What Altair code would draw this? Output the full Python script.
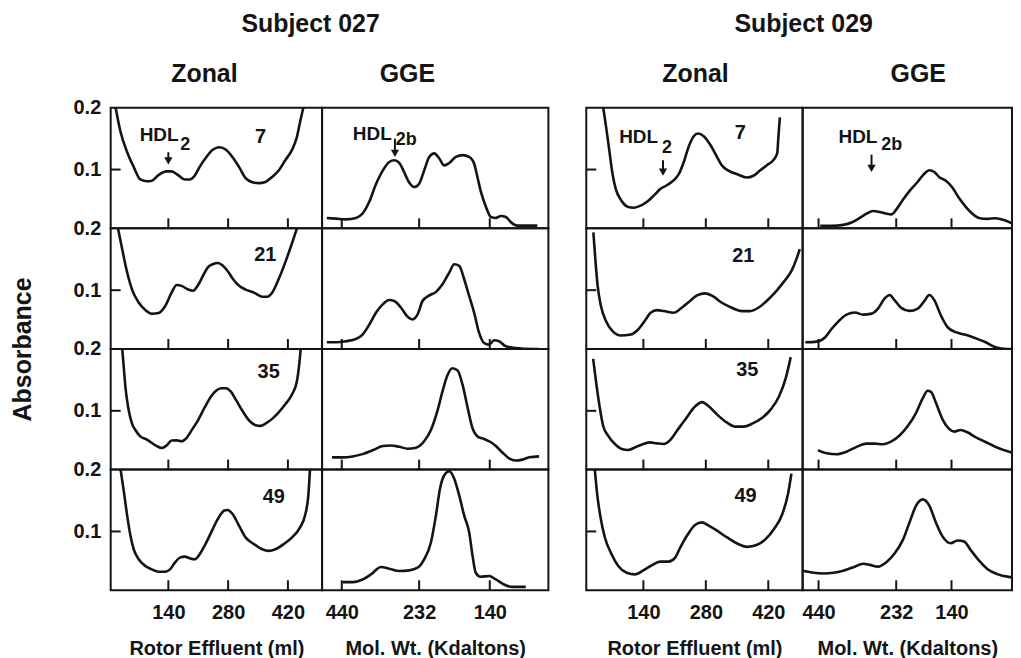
import altair as alt
import pandas as pd

FONT = "Liberation Sans"
INK = "#141414"

# ---------------- data ----------------
# Subject 027, zonal ultracentrifugation: rotor effluent (ml) vs absorbance
s027_zonal_d7_ml = [16.6, 28, 43.6, 59, 74.4, 89.9, 101.4, 116.9, 136, 147.7, 163, 178.6, 190, 201.7, 213, 228.7, 244, 259.6, 275, 290.4, 305.8, 321, 336.7, 352, 367.5, 383, 398, 413.8, 429, 440.8, 448.5, 456]
s027_zonal_d7_abs = [0.2, 0.161, 0.128, 0.104, 0.084, 0.081, 0.082, 0.091, 0.097, 0.097, 0.091, 0.084, 0.084, 0.090, 0.104, 0.120, 0.132, 0.136, 0.132, 0.120, 0.104, 0.086, 0.0795, 0.078, 0.080, 0.088, 0.098, 0.115, 0.131, 0.152, 0.177, 0.2]
s027_zonal_d21_ml = [22, 32, 43.6, 55, 70.6, 86, 101.4, 117, 132.3, 147.7, 159.3, 171, 186.3, 197.8, 209.4, 221, 232.6, 244, 255.7, 267.3, 278.8, 290.4, 305.8, 321, 340.5, 359.8, 371.4, 383, 398.4, 413.8, 429.2, 440.8]
s027_zonal_d21_abs = [0.2, 0.166, 0.1285, 0.101, 0.080, 0.068, 0.062, 0.063, 0.074, 0.096, 0.1085, 0.107, 0.101, 0.099, 0.108, 0.123, 0.137, 0.142, 0.144, 0.140, 0.131, 0.119, 0.107, 0.101, 0.096, 0.0895, 0.0895, 0.096, 0.118, 0.145, 0.175, 0.199]
s027_zonal_d35_ml = [32, 35.9, 39.7, 43.6, 47.4, 55.1, 62.9, 74.4, 89.9, 101.4, 113, 124.6, 136, 147.7, 159.3, 170.9, 182.4, 194, 209.4, 224.8, 240.3, 251.8, 263.4, 275, 286.5, 298, 313.5, 329, 344.4, 356, 367.5, 383, 398.4, 413.8, 429.2, 440.8, 447, 450]
s027_zonal_d35_abs = [0.2, 0.168, 0.137, 0.116, 0.100, 0.079, 0.069, 0.0586, 0.0534, 0.048, 0.043, 0.040, 0.044, 0.052, 0.0523, 0.0508, 0.056, 0.068, 0.0846, 0.105, 0.1236, 0.1324, 0.1366, 0.1366, 0.131, 0.118, 0.100, 0.0846, 0.0768, 0.0757, 0.0794, 0.087, 0.0976, 0.1106, 0.126, 0.147, 0.178, 0.2]
s027_zonal_d49_ml = [28.2, 35.9, 43.6, 51.3, 59, 70.6, 86, 101.4, 116.9, 132.3, 143.9, 155.4, 167, 178.6, 190, 201.7, 213.3, 224.8, 240.3, 255.7, 271.1, 278.8, 290.4, 305.8, 321.3, 340.5, 359.8, 375.2, 390.7, 410, 429.2, 448.5, 460, 467.8, 471.7]
s027_zonal_d49_abs = [0.2, 0.164, 0.1256, 0.093, 0.071, 0.055, 0.0442, 0.0387, 0.035, 0.035, 0.0387, 0.0496, 0.0577, 0.0594, 0.0566, 0.055, 0.0632, 0.0767, 0.0985, 0.120, 0.1338, 0.1348, 0.1283, 0.109, 0.090, 0.0795, 0.0713, 0.0686, 0.0713, 0.0795, 0.090, 0.1066, 0.1256, 0.158, 0.2]

# Subject 027, gradient gel electrophoresis: migration position (0-100) vs absorbance
s027_gge_d7_pos = [2.1, 6.2, 10.6, 15, 17.9, 20.9, 23.8, 26.8, 29.7, 31.9, 34.1, 36.3, 38.5, 40.7, 42.9, 45.1, 47.4, 49.6, 51.8, 54, 56.2, 59.1, 62.1, 65, 67.2, 68.7, 70.1, 72.4, 74.6, 76.8, 79, 81.2, 83.4, 86.3, 90, 95.1]
s027_gge_d7_abs = [0.0217, 0.0206, 0.0194, 0.0217, 0.0289, 0.0483, 0.0761, 0.0983, 0.1122, 0.115, 0.1106, 0.0956, 0.0789, 0.0717, 0.0772, 0.0983, 0.1206, 0.1261, 0.1178, 0.1067, 0.1106, 0.1206, 0.1233, 0.1206, 0.1094, 0.0872, 0.065, 0.040, 0.0233, 0.0217, 0.025, 0.0233, 0.015, 0.0094, 0.0094, 0.0094]
s027_gge_d21_pos = [2.1, 6.2, 10.6, 15, 17.9, 20.9, 23.8, 26.8, 29.7, 31.9, 34.9, 37.8, 40, 42.2, 44.4, 47.4, 50.3, 53.2, 56.2, 58.4, 60.6, 62.8, 65, 67.2, 69.4, 71.6, 73.8, 76, 78.2, 81.2, 85.6, 92.9, 95.9]
s027_gge_d21_abs = [0.0158, 0.0158, 0.0175, 0.0212, 0.0283, 0.0445, 0.0635, 0.077, 0.0841, 0.0825, 0.0716, 0.057, 0.0527, 0.0608, 0.0825, 0.0917, 0.0971, 0.1095, 0.1285, 0.142, 0.1393, 0.1177, 0.0906, 0.0635, 0.031, 0.0147, 0.012, 0.019, 0.0175, 0.0093, 0.0066, 0.005, 0.005]
s027_gge_d35_pos = [4.4, 9.1, 13.5, 17.9, 22.4, 26.8, 30.4, 34.1, 37.8, 41.5, 45.1, 48.1, 51, 53.2, 55.4, 57.6, 59.9, 62.1, 64.3, 66.5, 68.7, 71.6, 74.6, 76.8, 79.7, 82.6, 85.6, 88.5, 91.5, 95.9]
s027_gge_d35_abs = [0.0248, 0.0248, 0.0263, 0.030, 0.0362, 0.043, 0.044, 0.0419, 0.0388, 0.0404, 0.0508, 0.069, 0.1002, 0.1314, 0.1574, 0.1688, 0.1652, 0.1418, 0.1054, 0.0716, 0.0586, 0.0544, 0.0492, 0.043, 0.0326, 0.0232, 0.0196, 0.0211, 0.0248, 0.0263]
s027_gge_d49_pos = [9.1, 13.5, 17.9, 21.6, 26, 29.7, 34.1, 38.5, 42.2, 45.1, 48.1, 50.3, 52.1, 54, 56.2, 58.4, 60.6, 62.8, 65, 66.5, 67.9, 70.1, 73.8, 76.8, 80.4, 84.1, 90]
s027_gge_d49_abs = [0.0181, 0.0181, 0.0224, 0.0306, 0.0425, 0.0398, 0.036, 0.0371, 0.0414, 0.055, 0.0822, 0.1256, 0.169, 0.1908, 0.1973, 0.1853, 0.1582, 0.1256, 0.0985, 0.0605, 0.0333, 0.0268, 0.0279, 0.0224, 0.0143, 0.0105, 0.0105]

# Subject 029, zonal
s029_zonal_d7_ml = [50.1, 56.1, 63.5, 70.9, 78.4, 89.5, 104.3, 119.2, 134.1, 148.9, 163.8, 178.6, 193.5, 208.3, 219.5, 230.6, 241.7, 252.9, 262.5, 275.2, 290, 304.9, 316, 330.9, 353.2, 371.7, 386.6, 401.4, 416.3, 431.1, 440, 442.3, 444.5, 446]
s029_zonal_d7_abs = [0.2, 0.1706, 0.1317, 0.0928, 0.0678, 0.0511, 0.040, 0.0383, 0.0417, 0.0483, 0.0583, 0.0689, 0.075, 0.0828, 0.0928, 0.1122, 0.1372, 0.1539, 0.1583, 0.1539, 0.140, 0.1206, 0.1067, 0.0983, 0.0917, 0.0872, 0.090, 0.0983, 0.1067, 0.115, 0.1261, 0.1483, 0.1706, 0.1844]
s029_zonal_d21_ml = [27.9, 32.3, 37.5, 44.9, 56.1, 70.9, 89.5, 111.8, 126.6, 145.2, 156.3, 171.2, 186, 208.3, 223.2, 241.7, 260.3, 278.9, 297.5, 316, 338.3, 360.6, 379.1, 397.7, 416.3, 434.9, 453.4, 472, 483.1, 490.6]
s029_zonal_d21_abs = [0.1935, 0.1502, 0.1068, 0.0743, 0.050, 0.0337, 0.0267, 0.0283, 0.0353, 0.0527, 0.0635, 0.0678, 0.0662, 0.0635, 0.070, 0.0808, 0.0917, 0.0949, 0.0895, 0.0797, 0.0716, 0.0662, 0.0662, 0.0716, 0.0825, 0.096, 0.1122, 0.1312, 0.1502, 0.1664]
s029_zonal_d35_ml = [27.4, 34.9, 42.4, 49.9, 61.2, 76.2, 91.2, 106.2, 125, 140, 155, 170, 185, 200, 215, 233.8, 256.4, 271.4, 286.4, 305.2, 327.7, 346.4, 365.2, 384, 406.5, 425.3, 444, 459, 470.3]
s029_zonal_d35_abs = [0.1841, 0.1417, 0.1046, 0.0755, 0.0596, 0.0463, 0.0384, 0.0368, 0.0421, 0.0463, 0.049, 0.0474, 0.0463, 0.0527, 0.0675, 0.086, 0.1073, 0.1141, 0.1073, 0.094, 0.0808, 0.0744, 0.0744, 0.0792, 0.0887, 0.102, 0.1232, 0.1523, 0.1868]
s029_zonal_d49_ml = [31.1, 36.4, 43.9, 53.7, 68.7, 83.7, 102.5, 121.2, 140, 158.8, 177.5, 196.3, 211.3, 222.6, 237.6, 256.4, 271.4, 286.4, 305.2, 327.7, 350.2, 372.7, 395.2, 414, 432.8, 451.5, 464.3, 471.8]
s029_zonal_d49_abs = [0.2, 0.1609, 0.1229, 0.0903, 0.0632, 0.0442, 0.0333, 0.0306, 0.0371, 0.0453, 0.0512, 0.0512, 0.0577, 0.074, 0.093, 0.1109, 0.1147, 0.1093, 0.1012, 0.0903, 0.0805, 0.0751, 0.0784, 0.0876, 0.1039, 0.1283, 0.1609, 0.1935]

# Subject 029, GGE
s029_gge_d7_pos = [8.4, 13.9, 19.4, 23.4, 27.3, 30.5, 33.7, 36.8, 40, 42.4, 44.7, 47.9, 51, 55, 58.1, 60.5, 62.9, 65.3, 68.4, 71.6, 74.7, 77.9, 81.1, 84.2, 88.2, 92.1, 96.1, 100, 103.6]
s029_gge_d7_abs = [0.0089, 0.0089, 0.0106, 0.0145, 0.0218, 0.0286, 0.0331, 0.0314, 0.0286, 0.0275, 0.0353, 0.0511, 0.0651, 0.0803, 0.0932, 0.0988, 0.096, 0.0876, 0.082, 0.0707, 0.0539, 0.0398, 0.0286, 0.0218, 0.0202, 0.0213, 0.0185, 0.0129, 0.0061]
s029_gge_d21_pos = [1.3, 6.8, 10.8, 13.9, 17.1, 21, 25, 28.9, 32.9, 36, 39.2, 41.6, 43.9, 47.1, 51, 55, 58.1, 60.5, 62.9, 66, 69.2, 73.2, 77.9, 82.6, 87.4, 92.1, 97.6, 103.6]
s029_gge_d21_abs = [0.0158, 0.0169, 0.024, 0.0376, 0.0496, 0.0605, 0.0638, 0.0605, 0.0621, 0.0703, 0.0866, 0.0921, 0.0839, 0.0714, 0.0665, 0.0703, 0.0823, 0.0921, 0.0839, 0.0594, 0.0403, 0.0321, 0.0278, 0.0223, 0.0158, 0.0076, 0.005, 0.005]
s029_gge_d35_pos = [7.3, 11.5, 16.3, 21, 25.8, 30.5, 34.5, 38.4, 42.4, 46.3, 50.3, 54.2, 57.4, 59.7, 61.3, 63.7, 66.8, 70, 72.4, 75.5, 78.7, 82.6, 87.4, 92.1, 97.6, 103.6]
s029_gge_d35_abs = [0.0365, 0.0313, 0.0297, 0.0339, 0.0418, 0.047, 0.047, 0.046, 0.0507, 0.0601, 0.0758, 0.0968, 0.1204, 0.1324, 0.1308, 0.1125, 0.0863, 0.0706, 0.0664, 0.069, 0.0653, 0.0575, 0.0496, 0.0418, 0.0349, 0.0287]
s029_gge_d49_pos = [0, 4.4, 10, 14.7, 19.4, 24.2, 28.9, 32.1, 36, 40, 43.9, 47.9, 51, 54.2, 57.4, 60.5, 63.7, 66.8, 70.8, 73.9, 77.1, 80.3, 84.2, 88.2, 92.9, 98.4, 103.6]
s029_gge_d49_abs = [0.0366, 0.0338, 0.0321, 0.0332, 0.0366, 0.0421, 0.0477, 0.046, 0.0432, 0.0504, 0.0643, 0.0864, 0.1141, 0.1418, 0.1518, 0.1418, 0.1141, 0.092, 0.0809, 0.0853, 0.0837, 0.0698, 0.0532, 0.0393, 0.031, 0.0266, 0.0255]

# labels / ticks
subjects = ["Subject 027", "Subject 029"]
methods = ["Zonal", "GGE"]
days = ["7", "21", "35", "49"]
zonal_ticks = [140, 280, 420]
gge_tick_labels = ["440", "232", "140"]
gge_ticks_027 = [8.7, 42.9, 74.1]
gge_ticks_029 = [7.6, 44.7, 71.1]
y_tick_labels = [0.1, 0.2]
y_inner_tick = [0.1]
zonal_xtitle = "Rotor Effluent (ml)"
gge_xtitle = "Mol. Wt. (Kdaltons)"
y_title = "Absorbance"

# day-number annotation positions (ml, absorbance)
s027_day_ml = [356, 367, 375, 387]
s027_day_abs = [0.152, 0.157, 0.163, 0.155]
s029_day_ml = [357, 364, 373, 369]
s029_day_abs = [0.159, 0.156, 0.166, 0.157]

# HDL annotations: label, subscript, label x, label y, sub x, sub y, arrow x, arrow top y, arrow tip y
s027_zonal_hdl = ["HDL", "2", 164, 0.1565, 168, 0.140, 140, 0.128, 0.108]
s027_gge_hdl = ["HDL", "2b", 30.8, 0.158, 32.6, 0.147, 32.2, 0.150, 0.120]
s029_zonal_hdl = ["HDL", "2", 173, 0.153, 182, 0.1355, 184, 0.115, 0.090]
s029_gge_hdl = ["HDL", "2b", 35.7, 0.153, 37.6, 0.140, 32.9, 0.124, 0.096]

# ---------------- layout / style ----------------
ROW_H = 121
Y_SCALE = alt.Scale(domain=[0.005, 0.2], nice=False, zero=False)
LABEL_SIZE = 20
TITLE_SIZE = 25


def label_expr(values, labels):
    expr = "''"
    for v, l in reversed(list(zip(values, labels))):
        expr = f"datum.value == {v} ? '{l}' : ({expr})"
    return expr


def panel(xs, ys, xdom, width, ticks, tick_labels, show_x, x_title, y_labels,
          y_tick, abs_title, title, title_dx, title_offset, day, day_x, day_y, hdl):
    xscale = alt.Scale(domain=xdom, nice=False, zero=False)
    if show_x:
        kw = dict(values=ticks, ticks=False, tickSize=0, domain=False, grid=False,
                  labelPadding=12, labelFontSize=LABEL_SIZE, labelFont=FONT,
                  labelFontWeight="bold", labelColor=INK, labelFlush=False,
                  labelOverlap=False, title=x_title, titleFont=FONT,
                  titleFontSize=LABEL_SIZE, titleFontWeight="bold",
                  titleColor=INK, titlePadding=16)
        if tick_labels is not None:
            kw["labelExpr"] = label_expr(ticks, tick_labels)
        x_axis = alt.Axis(**kw)
    else:
        x_axis = None
    if y_labels:
        ykw = dict(values=y_tick_labels, format=".1f", ticks=False, tickSize=0,
                   domain=False, grid=False, labelPadding=10,
                   labelFontSize=LABEL_SIZE, labelFont=FONT,
                   labelFontWeight="bold", labelColor=INK, labelFlush=False,
                   labelOverlap=False, title=None)
        if abs_title:
            ykw.update(title=y_title, titleFont=FONT, titleFontSize=TITLE_SIZE,
                       titleFontWeight="bold", titleColor=INK, titleX=-88,
                       titleY=ROW_H, titleAngle=270, titleBaseline="middle",
                       titleAlign="center")
        y_axis = alt.Axis(**ykw)
    else:
        y_axis = None

    def X(field):
        return alt.X(field, type="quantitative", scale=xscale, axis=x_axis)

    def Y(field):
        return alt.Y(field, type="quantitative", scale=Y_SCALE, axis=y_axis)

    df = pd.DataFrame({"x": xs, "y": ys})
    layers = [
        alt.Chart(df).mark_line(color=INK, strokeWidth=2.6, interpolate="monotone",
                                clip=True).encode(x=X("x"), y=Y("y")),
        alt.Chart(pd.DataFrame({"x": ticks})).mark_rule(color=INK, strokeWidth=2).encode(
            x=X("x"), y=alt.value(ROW_H), y2=alt.value(ROW_H - 10)),
    ]
    if y_tick:
        layers.append(
            alt.Chart(pd.DataFrame({"y": y_inner_tick})).mark_rule(color=INK, strokeWidth=2).encode(
                y=Y("y"), x=alt.value(0), x2=alt.value(10))
        )
    if day is not None:
        layers.append(
            alt.Chart(pd.DataFrame({"x": [day_x], "y": [day_y], "t": [day]})).mark_text(
                font=FONT, fontSize=LABEL_SIZE, fontWeight="bold", color=INK,
                align="center", baseline="middle").encode(
                x=X("x"), y=Y("y"), text="t:N")
        )
    if hdl is not None:
        lab, sub, lx, ly, sx, sy, ax, ay1, ay2 = hdl
        layers.append(
            alt.Chart(pd.DataFrame({"x": [lx], "y": [ly], "t": [lab]})).mark_text(
                font=FONT, fontSize=19, fontWeight="bold", color=INK,
                align="right", baseline="middle").encode(
                x=X("x"), y=Y("y"), text="t:N")
        )
        layers.append(
            alt.Chart(pd.DataFrame({"x": [sx], "y": [sy], "t": [sub]})).mark_text(
                font=FONT, fontSize=18, fontWeight="bold", color=INK,
                align="left", baseline="middle").encode(
                x=X("x"), y=Y("y"), text="t:N")
        )
        layers.append(
            alt.Chart(pd.DataFrame({"x": [ax], "y": [ay1], "y2": [ay2 + 0.008]})).mark_rule(
                color=INK, strokeWidth=2).encode(
                x=X("x"), y=Y("y"), y2="y2:Q")
        )
        layers.append(
            alt.Chart(pd.DataFrame({"x": [ax], "y": [ay2 + 0.006]})).mark_point(
                shape="triangle-down", filled=True, color=INK, opacity=1, size=70).encode(
                x=X("x"), y=Y("y"))
        )
    ch = alt.layer(*layers).properties(width=width, height=ROW_H)
    if title is not None:
        ch = ch.properties(title=alt.TitleParams(
            text=title, anchor="middle", frame="group", font=FONT,
            fontSize=TITLE_SIZE, fontWeight="bold", color=INK, offset=title_offset,
            dx=title_dx))
    return ch


def group(subject, zonal, gge, gge_ticks, zw, gw, zdom, day_ml, day_abs,
          zhdl, ghdl, left, title_dx, zdx, gdx):
    panels = []
    for r in range(4):
        zx, zy = zonal[r]
        gx, gy = gge[r]
        last = r == 3
        panels.append(panel(
            zx, zy, zdom, zw, zonal_ticks, None, last, zonal_xtitle,
            left, True, left and r == 1,
            methods[0] if r == 0 else None, zdx, 11 if left else 21,
            days[r], day_ml[r], day_abs[r], zhdl if r == 0 else None))
        panels.append(panel(
            gx, gy, [0, 100], gw, gge_ticks, gge_tick_labels, last, gge_xtitle,
            False, False, False,
            methods[1] if r == 0 else None, gdx, 21,
            None, None, None, ghdl if r == 0 else None))
    return alt.concat(*panels, columns=2, spacing=0, bounds="flush").properties(
        title=alt.TitleParams(text=subject, anchor="middle", font=FONT,
                              fontSize=TITLE_SIZE, fontWeight="bold", color=INK,
                              offset=24, dx=title_dx))


g027 = group(
    subjects[0],
    [(s027_zonal_d7_ml, s027_zonal_d7_abs), (s027_zonal_d21_ml, s027_zonal_d21_abs),
     (s027_zonal_d35_ml, s027_zonal_d35_abs), (s027_zonal_d49_ml, s027_zonal_d49_abs)],
    [(s027_gge_d7_pos, s027_gge_d7_abs), (s027_gge_d21_pos, s027_gge_d21_abs),
     (s027_gge_d35_pos, s027_gge_d35_abs), (s027_gge_d49_pos, s027_gge_d49_abs)],
    gge_ticks_027, 212, 227, [5, 500], s027_day_ml, s027_day_abs,
    s027_zonal_hdl, s027_gge_hdl, True, 31, -12, -28)

g029 = group(
    subjects[1],
    [(s029_zonal_d7_ml, s029_zonal_d7_abs), (s029_zonal_d21_ml, s029_zonal_d21_abs),
     (s029_zonal_d35_ml, s029_zonal_d35_abs), (s029_zonal_d49_ml, s029_zonal_d49_abs)],
    [(s029_gge_d7_pos, s029_gge_d7_abs), (s029_gge_d21_pos, s029_gge_d21_abs),
     (s029_gge_d35_pos, s029_gge_d35_abs), (s029_gge_d49_pos, s029_gge_d49_abs)],
    gge_ticks_029, 217, 210, [12, 497], s029_day_ml, s029_day_abs,
    s029_zonal_hdl, s029_gge_hdl, False, 5, 1, 11)

chart = alt.hconcat(g027, g029, spacing=35).properties(
    padding={"left": 2, "top": 3, "right": 0, "bottom": 0},
    background="white",
).configure_view(stroke=INK, strokeWidth=2)

chart.save("out.html", embed_options={"renderer": "svg", "actions": False})
